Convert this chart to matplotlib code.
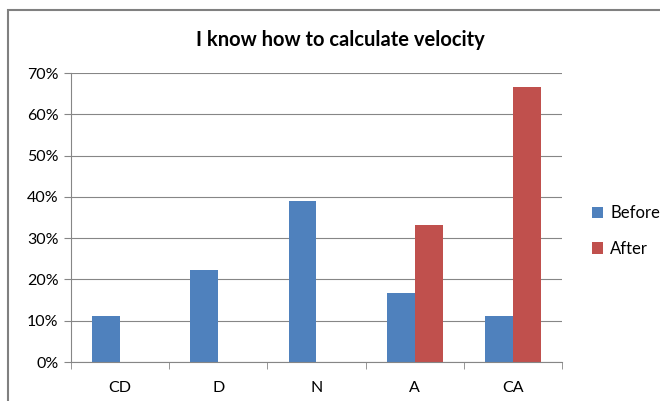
import matplotlib.pyplot as plt
import matplotlib.patches as patches
import numpy as np

categories = ["CD", "D", "N", "A", "CA"]
before = [0.111, 0.222, 0.389, 0.167, 0.111]
after = [0.0, 0.0, 0.0, 0.333, 0.667]

BLUE = "#4F81BD"
RED = "#C0504D"
GRID = "#868686"
TEXT = "#000000"

plt.rcParams["font.family"] = ["Lato", "DejaVu Sans"]

fig = plt.figure(figsize=(6.6, 4.01), dpi=100)
ax = fig.add_axes([71 / 660, 1 - 362 / 401, (562 - 71) / 660, (362 - 73) / 401])

x = np.arange(len(categories))
w = 0.285
ax.bar(x - w / 2, before, w, color=BLUE, label="Before")
ax.bar(x + w / 2, after, w, color=RED, label="After")

ax.set_xlim(-0.5, len(categories) - 0.5)
ax.set_ylim(0, 0.7)
ax.set_yticks(np.arange(0, 0.71, 0.1))
ax.set_yticklabels([f"{int(round(v * 100))}%" for v in np.arange(0, 0.71, 0.1)],
                   fontsize=11.5, color=TEXT)
ax.set_xticks(x)
ax.set_xticklabels(categories, fontsize=11.5, color=TEXT)
ax.set_xticks(np.arange(-0.5, len(categories)), minor=True)
ax.tick_params(axis="x", which="major", length=0, pad=14)
ax.tick_params(axis="x", which="minor", length=5, color=GRID, direction="out")
ax.tick_params(axis="y", length=5, color=GRID, direction="out", pad=4)

ax.grid(axis="y", color=GRID, linewidth=0.8)
ax.set_axisbelow(True)
for s in ["top", "right"]:
    ax.spines[s].set_visible(False)
for s in ["left", "bottom"]:
    ax.spines[s].set_color(GRID)
    ax.spines[s].set_linewidth(0.8)

ax.legend(loc="center left", bbox_to_anchor=(585 / 660, 1 - 231 / 401),
          bbox_transform=fig.transFigure, frameon=False, borderaxespad=0,
          fontsize=12, handlelength=0.7, handleheight=0.7, labelspacing=1.15,
          handletextpad=0.4)

fig.text(340 / 660, 1 - 40 / 401, "I know how to calculate velocity",
         ha="center", va="center", fontsize=14.5, fontweight="bold", color=TEXT)

# outer chart frame, cut off at the right and bottom
frame = patches.Rectangle((8 / 660, -0.1), 1.0, 1 - 10 / 401 + 0.1,
                          transform=fig.transFigure, fill=False,
                          edgecolor="#808080", linewidth=1.5)
fig.patches.append(frame)

fig.savefig("out.png", dpi=100)
